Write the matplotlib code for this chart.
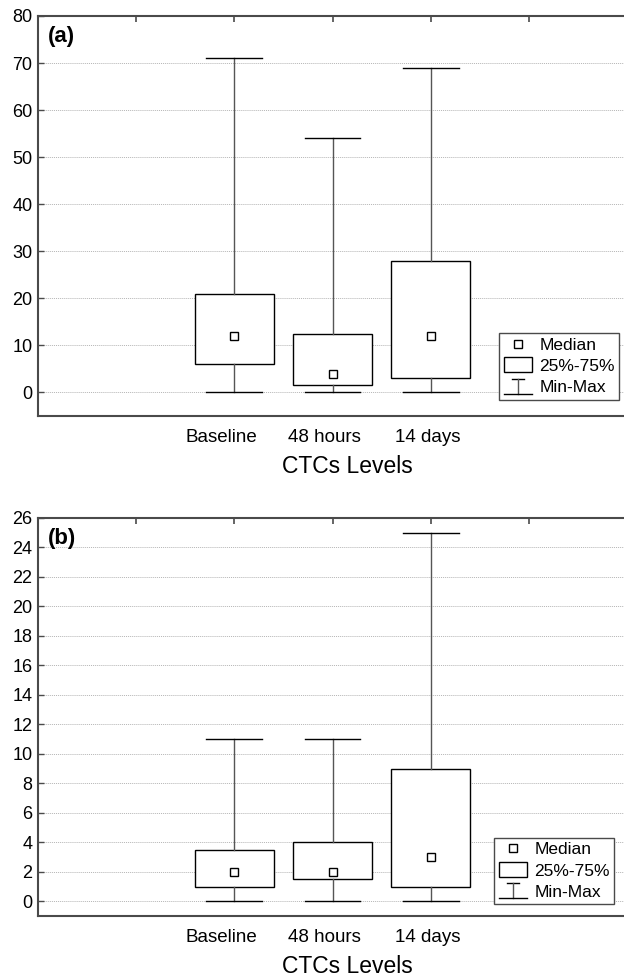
"""Box plots of CTC levels at three time points, panels (a) and (b)."""

import matplotlib

matplotlib.use("Agg")
import matplotlib.pyplot as plt
from matplotlib.legend_handler import HandlerBase
from matplotlib.lines import Line2D
from matplotlib.patches import Rectangle
from matplotlib.transforms import ScaledTranslation

plt.rcParams["font.family"] = ["Liberation Sans", "DejaVu Sans"]

CATEGORIES = ["Baseline", "48 hours", "14 days"]

# panel (a)
A_MIN = [0, 0, 0]
A_Q1 = [6, 1.5, 3]
A_MED = [12, 4, 12]
A_Q3 = [21, 12.5, 28]
A_MAX = [71, 54, 69]
A_YTICKS = list(range(0, 81, 10))

# panel (b)
B_MIN = [0, 0, 0]
B_Q1 = [1, 1.5, 1]
B_MED = [2, 2, 3]
B_Q3 = [3.5, 4, 9]
B_MAX = [11, 11, 25]
B_YTICKS = list(range(0, 27, 2))

W, H = 624, 977
SPINE = "#4a4a4a"
LABEL_SHIFT_PX = [-13, -8, -3]  # the category labels sit a little left of the boxes


class BoxKey:
    pass


class MinMaxKey:
    pass


class MinMaxHandler(HandlerBase):
    """Whisker glyph: short top bar, stem, full-width bottom bar."""

    def create_artists(self, legend, orig_handle, xdescent, ydescent,
                       width, height, fontsize, trans):
        cx = width / 2 - xdescent
        y0, y1 = -ydescent - 1, height - ydescent + 1
        return [
            Line2D([cx - width * 0.22, cx + width * 0.22], [y1, y1],
                   color="black", lw=1.0, transform=trans),
            Line2D([cx, cx], [y0, y1], color="#555555", lw=1.0, transform=trans),
            Line2D([-xdescent, width - xdescent], [y0, y0],
                   color="black", lw=1.0, transform=trans),
        ]


class BoxHandler(HandlerBase):
    def create_artists(self, legend, orig_handle, xdescent, ydescent,
                       width, height, fontsize, trans):
        return [Rectangle((-xdescent, -ydescent - 1), width, height + 2,
                          facecolor="white", edgecolor="black", lw=1.0,
                          transform=trans)]


def panel(fig, ax, lo, q1, med, q3, hi, yticks, ylim, tag, leg_xy):
    pos = [1, 2, 3]
    stats = [dict(whislo=a, q1=b, med=c, q3=d, whishi=e, fliers=[])
             for a, b, c, d, e in zip(lo, q1, med, q3, hi)]
    ax.bxp(stats, positions=pos, widths=0.8, capwidths=0.57, patch_artist=True,
           showfliers=False,
           boxprops=dict(facecolor="white", edgecolor="black", lw=1.0),
           whiskerprops=dict(color="#555555", lw=1.0),
           capprops=dict(color="black", lw=1.0),
           medianprops=dict(lw=0), zorder=3)
    ax.plot(pos, med, ls="none", marker="s", ms=6, mfc="white", mec="black",
            mew=1.0, zorder=4)

    ax.set_xlim(-1, 5)
    ax.set_ylim(*ylim)
    ax.set_yticks(yticks)
    ax.set_xticks([0, 1, 2, 3, 4])
    ax.set_xticklabels([""] + CATEGORIES + [""])
    ax.tick_params(axis="x", bottom=False, top=True, direction="in", length=4,
                   width=1.2, color=SPINE, labelsize=13.5, pad=9)
    ax.tick_params(axis="y", direction="in", length=4, width=1.0, color=SPINE,
                   labelsize=13, pad=4)
    for lab, dx in zip(ax.get_xticklabels()[1:4], LABEL_SHIFT_PX):
        lab.set_transform(lab.get_transform()
                          + ScaledTranslation(dx / 100, 0, fig.dpi_scale_trans))
    ax.set_xlabel("CTCs Levels", fontsize=16.5, labelpad=7)
    ax.xaxis.label.set_x(0.526)
    ax.yaxis.grid(True, ls=(0, (1, 1)), color="#b5b5b5", lw=0.7)
    ax.set_axisbelow(True)
    for s in ax.spines.values():
        s.set_color(SPINE)
        s.set_linewidth(1.5)

    ax.text(0.017, 0.975, tag, transform=ax.transAxes, ha="left", va="top",
            fontsize=16, fontweight="bold")

    handles = [Line2D([], [], ls="none", marker="s", ms=6, mfc="white",
                      mec="black", mew=1.0), BoxKey(), MinMaxKey()]
    leg = ax.legend(handles, ["Median", "25%-75%", "Min-Max"],
                    handler_map={BoxKey: BoxHandler(), MinMaxKey: MinMaxHandler()},
                    loc="lower left", bbox_to_anchor=leg_xy,
                    bbox_transform=ax.transData, borderaxespad=0,
                    fancybox=False, framealpha=1, edgecolor=SPINE,
                    fontsize=12.5, handlelength=1.6, handletextpad=0.45,
                    labelspacing=0.35, borderpad=0.25)
    leg.get_frame().set_linewidth(1.0)
    leg.set_zorder(5)


fig = plt.figure(figsize=(W / 100, H / 100), dpi=100)
ax_w = (627 - 38) / W
ax_a = fig.add_axes([38 / W, 1 - 416 / H, ax_w, (416 - 16) / H])
ax_b = fig.add_axes([38 / W, 1 - 916 / H, ax_w, (916 - 518) / H])

panel(fig, ax_a, A_MIN, A_Q1, A_MED, A_Q3, A_MAX, A_YTICKS, (-5, 80), "(a)",
      leg_xy=(3.70, -1.5))
panel(fig, ax_b, B_MIN, B_Q1, B_MED, B_Q3, B_MAX, B_YTICKS, (-1, 26), "(b)",
      leg_xy=(3.65, -0.2))

fig.savefig("out.png", dpi=100)
